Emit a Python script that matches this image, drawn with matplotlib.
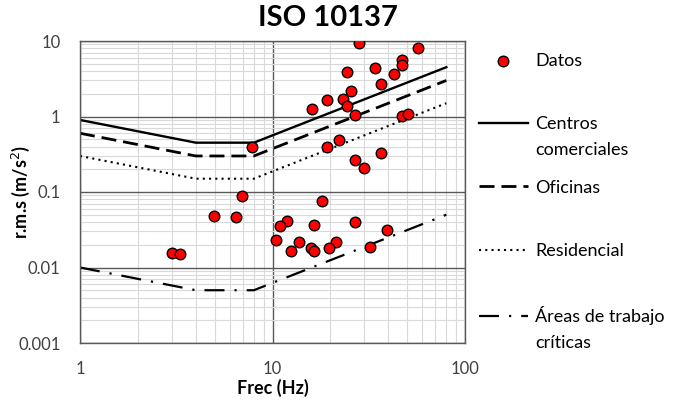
import matplotlib
matplotlib.use("Agg")
import matplotlib.pyplot as plt
from matplotlib.ticker import LogLocator, NullFormatter, FixedLocator

plt.rcParams['font.family'] = ['Lato', 'DejaVu Sans']

# datos medidos (frecuencia, aceleracion rms)
frec = [28.3, 57.0, 46.9, 46.9, 24.3, 34.2, 42.6, 36.5, 25.6, 19.1, 23.2, 16.0,
        24.3, 26.8, 46.9, 50.8, 7.83, 19.1, 22.2, 36.6, 26.8, 30.0, 6.94, 18.1,
        4.95, 6.49, 11.9, 10.9, 16.4, 26.8, 39.3, 10.4, 13.8, 21.3, 12.5, 15.9,
        16.5, 19.7, 32.0, 3.0, 3.31]
rms = [9.3, 8.08, 5.6, 4.77, 3.88, 4.35, 3.69, 2.67, 2.16, 1.67, 1.71, 1.26,
       1.36, 1.06, 1.02, 1.08, 0.394, 0.394, 0.493, 0.332, 0.263, 0.206, 0.0877, 0.0767,
       0.0485, 0.0462, 0.0413, 0.0358, 0.0366, 0.0401, 0.0317, 0.0229, 0.0220, 0.0216, 0.0167, 0.0181,
       0.0167, 0.0180, 0.0187, 0.0157, 0.0150]

# curvas ISO 10137
f_curva = [1, 4, 8, 80]
comerciales = [0.9, 0.45, 0.45, 4.5]
oficinas = [0.6, 0.3, 0.3, 3.0]
residencial = [0.3, 0.15, 0.15, 1.5]
criticas = [0.01, 0.005, 0.005, 0.05]

fig = plt.figure(figsize=(6.74, 4.0), dpi=100)
ax = fig.add_axes([80 / 674, 57 / 400, 385 / 674, 302 / 400])

ax.plot(f_curva, comerciales, color='black', lw=1.7, label='Centros')
ax.plot(f_curva, oficinas, color='black', lw=2.0, linestyle=(0, (5.4, 2.5)), label='Oficinas')
ax.plot(f_curva, residencial, color='black', lw=1.5, linestyle=(0, (1, 2)), label='Residencial')
ax.plot(f_curva, criticas, color='black', lw=1.6, linestyle=(0, (9, 4.5, 1, 4.5)),
        label='Áreas de trabajo')
ax.scatter(frec, rms, s=58, color='#ff0000', edgecolor='black', linewidth=1, zorder=5,
           label='Datos')

ax.set_xscale('log')
ax.set_yscale('log')
ax.set_xlim(1, 100)
ax.set_ylim(0.001, 10)

ax.xaxis.set_major_locator(FixedLocator([1, 10, 100]))
ax.yaxis.set_major_locator(FixedLocator([0.001, 0.01, 0.1, 1, 10]))
ax.set_xticklabels(['1', '10', '100'])
ax.set_yticklabels(['0.001', '0.01', '0.1', '1', '10'])
ax.xaxis.set_minor_locator(LogLocator(base=10, subs=range(2, 10)))
ax.yaxis.set_minor_locator(LogLocator(base=10, subs=range(2, 10)))
ax.xaxis.set_minor_formatter(NullFormatter())
ax.yaxis.set_minor_formatter(NullFormatter())
ax.tick_params(which='both', length=0, labelsize=12, colors='#404040')
ax.tick_params(axis='x', pad=13)
ax.tick_params(axis='y', pad=14)

ax.grid(which='major', color='#595959', lw=1.0)
ax.grid(which='minor', color='#d9d9d9', lw=0.8)
ax.set_axisbelow(True)
for s in ax.spines.values():
    s.set_color('#595959')
    s.set_linewidth(1.0)

ax.set_xlabel('Frec (Hz)', fontsize=13, fontweight='bold')
ax.xaxis.set_label_coords(0.5, -0.12)
ax.set_ylabel('r.m.s (m/s$^2$)', fontsize=13, fontweight='bold')
ax.yaxis.set_label_coords(-0.125, 0.5)
fig.text(328 / 674, 1 - 18 / 400, 'ISO 10137', fontsize=21, fontweight='bold',
         ha='center', va='center')

h, l = ax.get_legend_handles_labels()
orden = [4, 0, 1, 2, 3]
leg = fig.legend([h[i] for i in orden], [l[i] for i in orden], loc='upper left',
                 bbox_to_anchor=(470 / 674, 1 - 44 / 400), frameon=False, fontsize=13,
                 handlelength=2.7, handletextpad=0.4, labelspacing=2.62, borderpad=0)

# segunda linea de las etiquetas largas
fig.canvas.draw()
textos = leg.get_texts()
for i, extra in [(1, 'comerciales'), (4, 'críticas')]:
    bb = textos[i].get_window_extent()
    fig.text(bb.x0 / 674, (bb.y0 - 26) / 400, extra, fontsize=13, ha='left', va='bottom')

fig.savefig('out.png', dpi=100)
